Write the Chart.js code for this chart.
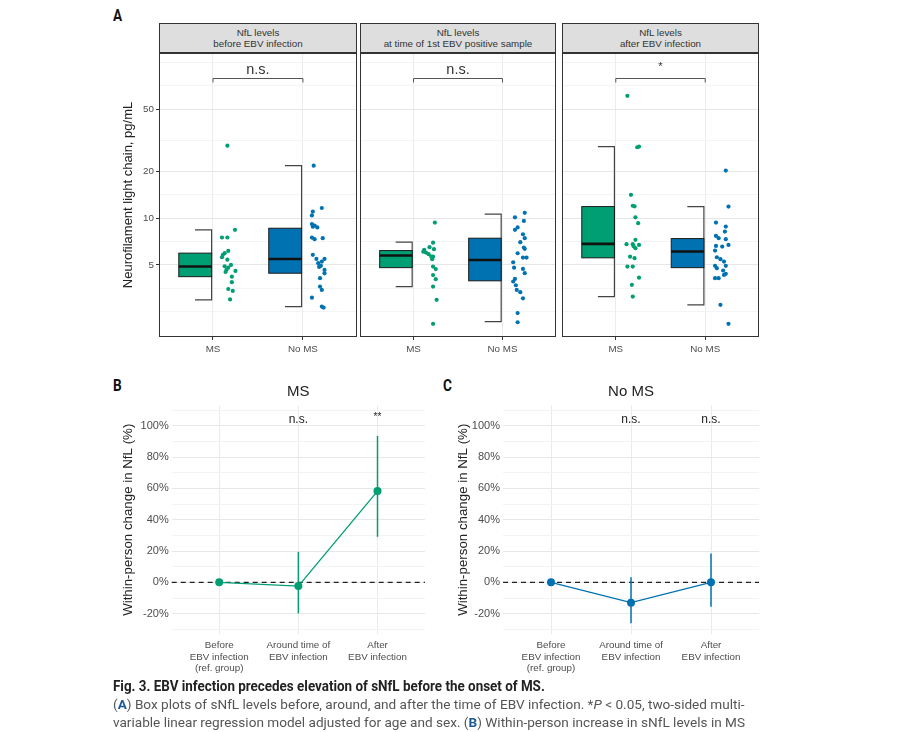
<!DOCTYPE html>
<html lang="en">
<head>
<meta charset="UTF-8">
<title>Fig. 3</title>
<script src="https://cdn.jsdelivr.net/npm/chart.js"></script>
<style>
    * { margin: 0; padding: 0; box-sizing: border-box; }
    body { background: #fff; width: 902px; height: 732px; overflow: hidden; position: relative; font-family: 'Liberation Sans', Arial, sans-serif; }
    canvas { position: absolute; }
    .letter { position: absolute; font-family: Roboto, sans-serif; font-weight: 700; font-size: 16px; color: #111; transform: scaleX(0.85); transform-origin: left; }
    .strip { position: absolute; top: 23px; height: 30px; border: 1px solid #333; background: #dedede; color: #333; font-size: 9.8px; line-height: 11px; text-align: center; padding-top: 3px; }
    .cap { position: absolute; left: 113px; font-family: Roboto, sans-serif; white-space: nowrap; transform-origin: left center; }
    .cap.t { font-weight: 700; font-size: 15px; color: #222; }
    .cap.s { font-size: 13.5px; color: #555; }
    .cap b { color: #1c5a96; }
</style>
</head>
<body>
    <div class="letter" style="left:113px; top:6px;">A</div>
    <div class="letter" style="left:113px; top:376px;">B</div>
    <div class="letter" style="left:443px; top:376px;">C</div>

    <div class="strip" id="strip0" style="left:159px; width:198px;"></div>
    <div class="strip" id="strip1" style="left:360px; width:196px;"></div>
    <div class="strip" id="strip2" style="left:562px; width:197px;"></div>

    <canvas id="facet0" width="249" height="310" style="left:110px; top:50px;"></canvas>
    <canvas id="facet1" width="200" height="310" style="left:358px; top:50px;"></canvas>
    <canvas id="facet2" width="201" height="310" style="left:560px; top:50px;"></canvas>

    <canvas id="chartB" width="320" height="305" style="left:110px; top:375px;"></canvas>
    <canvas id="chartC" width="325" height="305" style="left:440px; top:375px;"></canvas>

    <div class="cap t" id="cap1" style="top:677px;">Fig. 3. EBV infection precedes elevation of sNfL before the onset of MS.</div>
    <div class="cap s" id="cap2" style="top:696px;">(<b>A</b>) Box plots of sNfL levels before, around, and after the time of EBV infection. *<i>P</i> &lt; 0.05, two-sided multi-</div>
    <div class="cap s" id="cap3" style="top:714px;">variable linear regression model adjusted for age and sex. (<b>B</b>) Within-person increase in sNfL levels in MS</div>

<script>
// ---- panel A data ----
const groups = ['MS', 'No MS'];
const facetTitles = [
    ['NfL levels', 'before EBV infection'],
    ['NfL levels', 'at time of 1st EBV positive sample'],
    ['NfL levels', 'after EBV infection']
];
const sigA = ['n.s.', 'n.s.', '*'];
const bracketA = 79;
const yTicksA = [5, 10, 20, 50];
const yGridA = [2.5, 3.54, 5, 7.07, 10, 14.1, 20, 31.6, 50, 70.7, 100];

// box stats, per facet: [MS, No MS]
const q1A = [[4.2, 4.42], [4.8, 3.95], [5.55, 4.8]];
const medA = [[4.88, 5.46], [5.74, 5.38], [6.82, 6.09]];
const q3A = [[5.95, 8.6], [6.18, 7.42], [11.85, 7.38]];
const loA = [[2.98, 2.7], [3.63, 2.16], [3.13, 2.77]];
const hiA = [[8.4, 21.7], [7.0, 10.6], [28.8, 11.85]];

// individual samples (value, horizontal jitter)
const before_ms = [29.2, 8.4, 7.5, 7.5, 6.15, 5.95, 5.8, 5.6, 5.4, 5.0, 4.9, 4.8, 4.65, 4.57, 4.5, 4.2, 3.87, 3.5, 3.4, 3.0];
const before_ms_jit = [0.16, 0.245, 0.10, 0.16, 0.17, 0.13, 0.11, 0.10, 0.16, 0.20, 0.13, 0.17, 0.15, 0.25, 0.14, 0.21, 0.21, 0.17, 0.22, 0.19];
const before_noms = [21.7, 11.6, 11.0, 10.4, 9.14, 8.95, 8.8, 8.7, 7.49, 7.31, 7.42, 5.8, 5.46, 5.46, 5.25, 5.13, 4.93, 4.85, 4.64, 4.41, 4.11, 3.63, 3.45, 3.08, 2.7, 2.66];
const before_noms_jit = [0.12, 0.21, 0.11, 0.10, 0.10, 0.13, 0.11, 0.16, 0.10, 0.13, 0.22, 0.11, 0.15, 0.24, 0.21, 0.17, 0.20, 0.18, 0.24, 0.24, 0.19, 0.19, 0.21, 0.10, 0.21, 0.23];
const around_ms = [9.35, 6.95, 6.5, 6.31, 6.24, 6.08, 6.0, 5.86, 5.65, 5.65, 5.44, 4.88, 4.7, 4.3, 4.05, 3.63, 2.98, 2.09];
const around_ms_jit = [0.24, 0.22, 0.18, 0.23, 0.12, 0.11, 0.14, 0.17, 0.20, 0.22, 0.21, 0.22, 0.25, 0.22, 0.25, 0.22, 0.26, 0.22];
const around_noms = [10.8, 10.1, 9.59, 8.7, 8.4, 7.87, 7.42, 7.0, 6.46, 6.34, 5.94, 5.57, 5.57, 5.2, 4.8, 4.71, 4.42, 4.06, 3.91, 3.7, 3.45, 3.34, 3.05, 2.45, 2.14];
const around_noms_jit = [0.25, 0.14, 0.24, 0.17, 0.14, 0.23, 0.25, 0.20, 0.24, 0.25, 0.17, 0.23, 0.27, 0.12, 0.13, 0.23, 0.25, 0.14, 0.12, 0.15, 0.16, 0.20, 0.23, 0.17, 0.17];
const after_ms = [61, 28.8, 28.5, 14.1, 12.0, 11.9, 10.1, 9.27, 7.24, 6.79, 6.79, 6.72, 6.6, 6.4, 5.65, 5.52, 4.88, 4.88, 4.14, 3.72, 3.13];
const after_ms_jit = [0.13, 0.26, 0.24, 0.17, 0.19, 0.21, 0.22, 0.25, 0.22, 0.12, 0.19, 0.26, 0.20, 0.22, 0.16, 0.21, 0.13, 0.19, 0.26, 0.18, 0.19];
const after_noms = [20.2, 11.85, 9.35, 8.81, 8.18, 7.67, 7.42, 7.31, 6.72, 6.62, 6.56, 6.18, 5.6, 5.44, 5.25, 4.93, 4.76, 4.93, 4.6, 4.38, 4.31, 4.11, 4.11, 2.77, 2.09];
const after_noms_jit = [0.23, 0.26, 0.12, 0.23, 0.22, 0.12, 0.15, 0.23, 0.26, 0.12, 0.19, 0.11, 0.13, 0.17, 0.21, 0.11, 0.13, 0.23, 0.20, 0.23, 0.21, 0.11, 0.15, 0.17, 0.26];

const ptsA = [[before_ms, before_noms], [around_ms, around_noms], [after_ms, after_noms]];
const jitA = [[before_ms_jit, before_noms_jit], [around_ms_jit, around_noms_jit], [after_ms_jit, after_noms_jit]];

// ---- panels B / C data ----
const timeLabels = [['Before', 'EBV infection', '(ref. group)'], ['Around time of', 'EBV infection'], ['After', 'EBV infection']];
const msChange = [0, -2.4, 58.3];
const msLow = [0, -19.8, 29.1];
const msHigh = [0, 19.5, 93.5];
const msSig = ['', 'n.s.', '**'];
const noMsChange = [0, -13.0, 0];
const noMsLow = [0, -26.2, -15.6];
const noMsHigh = [0, 3.2, 18.5];
const noMsSig = ['', 'n.s.', 'n.s.'];
const sigY = 104;
const refLine = 0;
const pctTicks = [-20, 0, 20, 40, 60, 80, 100];
const pctGrid = [-30, -20, -10, 0, 10, 20, 30, 40, 50, 60, 70, 80, 90, 100, 110];

const groupColors = ['#009E73', '#0072B2'];
const FONT = "'Liberation Sans', Arial, sans-serif";
Chart.defaults.font.family = FONT;

facetTitles.forEach((t, i) => {
    document.getElementById('strip' + i).innerHTML = t.join('<br>');
});

// keep tick labels from pushing the plot area around
function noOverflow(s) {
    s.paddingTop = 0; s.paddingBottom = 0; s.paddingLeft = 0; s.paddingRight = 0;
}

function facetChart(f) {
    const showAxis = f === 0;
    const datasets = groups.map((g, gi) => ({
        label: g,
        data: ptsA[f][gi].map((v, i) => ({ x: gi + 1 + jitA[f][gi][i], y: v })),
        backgroundColor: groupColors[gi],
        pointRadius: 2.1,
        pointHoverRadius: 2.1,
        pointBorderWidth: 0
    }));

    const boxes = {
        id: 'boxes',
        beforeDatasetsDraw(chart) {
            const { ctx, scales: { x, y } } = chart;
            groups.forEach((g, gi) => {
                const c = gi + 1;
                const xl = x.getPixelForValue(c - 0.38);
                const xr = x.getPixelForValue(c - 0.015);
                const xc = x.getPixelForValue(c - 0.2);
                const yq1 = y.getPixelForValue(q1A[f][gi]);
                const yq3 = y.getPixelForValue(q3A[f][gi]);
                const ym = y.getPixelForValue(medA[f][gi]);
                const ylo = y.getPixelForValue(loA[f][gi]);
                const yhi = y.getPixelForValue(hiA[f][gi]);
                ctx.save();
                // whisker bracket
                ctx.strokeStyle = '#444';
                ctx.lineWidth = 1.2;
                ctx.beginPath();
                ctx.moveTo(xc, yhi); ctx.lineTo(xr, yhi); ctx.lineTo(xr, ylo); ctx.lineTo(xc, ylo);
                ctx.stroke();
                // box
                ctx.fillStyle = groupColors[gi];
                ctx.fillRect(xl, yq3, xr - xl, yq1 - yq3);
                ctx.strokeStyle = '#1a1a1a';
                ctx.lineWidth = 1;
                ctx.strokeRect(xl, yq3, xr - xl, yq1 - yq3);
                // median
                ctx.lineWidth = 2.6;
                ctx.strokeStyle = '#111';
                ctx.beginPath();
                ctx.moveTo(xl, ym); ctx.lineTo(xr, ym);
                ctx.stroke();
                ctx.restore();
            });
        },
        afterDraw(chart) {
            const { ctx, chartArea: a, scales: { x, y } } = chart;
            ctx.save();
            // significance bracket
            const yb = Math.round(y.getPixelForValue(bracketA)) + 0.5;
            const x1 = x.getPixelForValue(1), x2 = x.getPixelForValue(2);
            ctx.strokeStyle = '#555';
            ctx.lineWidth = 1;
            ctx.beginPath();
            ctx.moveTo(x1, yb + 4); ctx.lineTo(x1, yb); ctx.lineTo(x2, yb); ctx.lineTo(x2, yb + 4);
            ctx.stroke();
            ctx.fillStyle = '#333';
            ctx.textAlign = 'center';
            ctx.textBaseline = 'alphabetic';
            const star = sigA[f] === '*';
            ctx.font = (star ? '11px ' : '14.5px ') + FONT;
            ctx.fillText(sigA[f], (x1 + x2) / 2, star ? yb - 9 : yb - 5);
            // panel frame
            ctx.strokeStyle = '#333';
            ctx.lineWidth = 1;
            ctx.strokeRect(Math.round(a.left) + 0.5, Math.round(a.top) + 0.5, Math.round(a.right - a.left) - 1, Math.round(a.bottom - a.top) - 1);
            ctx.restore();
        }
    };

    return new Chart(document.getElementById('facet' + f), {
        type: 'scatter',
        data: { datasets },
        options: {
            responsive: false,
            animation: false,
            layout: { padding: { left: showAxis ? 0 : 2, right: 2, top: 3, bottom: 0 } },
            plugins: { legend: { display: false }, tooltip: { enabled: false } },
            scales: {
                x: {
                    type: 'linear', min: 0.4, max: 2.6,
                    afterBuildTicks: s => { s.ticks = groups.map((g, i) => ({ value: i + 1 })); },
                    afterFit: s => { s.height = 23; noOverflow(s); },
                    ticks: { callback: v => groups[v - 1], font: { size: 9.8 }, color: '#4d4d4d', padding: 3, autoSkip: false, maxRotation: 0 },
                    grid: { color: '#ececec', lineWidth: 1, tickLength: 3, tickColor: '#333' },
                    border: { display: false }
                },
                y: {
                    type: 'logarithmic', min: 1.72, max: 115, bounds: 'data',
                    afterBuildTicks: s => { s.ticks = yGridA.map(v => ({ value: v })); },
                    afterFit: s => { s.width = showAxis ? 49 : 0; noOverflow(s); },
                    ticks: { display: showAxis, callback: v => yTicksA.includes(v) ? String(v) : '', font: { size: 9.8 }, color: '#4d4d4d', padding: 2, autoSkip: false },
                    grid: {
                        color: c => (c.tick && yTicksA.includes(c.tick.value)) ? '#e6e6e6' : '#f1f1f1',
                        lineWidth: c => (c.tick && yTicksA.includes(c.tick.value)) ? 1 : 0.8,
                        drawTicks: showAxis, tickLength: 3,
                        tickColor: c => (c.tick && yTicksA.includes(c.tick.value)) ? '#333' : 'rgba(0,0,0,0)'
                    },
                    title: { display: showAxis, text: 'Neurofilament light chain, pg/mL', font: { size: 13 }, color: '#222', padding: { top: 10.5, bottom: 0 } },
                    border: { display: false }
                }
            }
        },
        plugins: [boxes]
    });
}

[0, 1, 2].forEach(facetChart);

function changeChart(id, title, vals, lo, hi, sig, color, yWidth, titlePad, padRight) {
    const extras = {
        id: 'extras',
        beforeDatasetsDraw(chart) {
            const { ctx, chartArea: a, scales: { x, y } } = chart;
            ctx.save();
            // dashed reference line
            const y0 = y.getPixelForValue(refLine);
            ctx.strokeStyle = '#222';
            ctx.lineWidth = 1.2;
            ctx.setLineDash([5, 4]);
            ctx.beginPath();
            ctx.moveTo(a.left, y0); ctx.lineTo(a.right, y0);
            ctx.stroke();
            ctx.setLineDash([]);
            // confidence intervals
            ctx.strokeStyle = color;
            ctx.lineWidth = 1.5;
            vals.forEach((v, i) => {
                if (lo[i] === hi[i]) return;
                const px = x.getPixelForValue(i + 1);
                ctx.beginPath();
                ctx.moveTo(px, y.getPixelForValue(lo[i]));
                ctx.lineTo(px, y.getPixelForValue(hi[i]));
                ctx.stroke();
            });
            // significance labels
            ctx.fillStyle = '#222';
            ctx.textAlign = 'center';
            ctx.textBaseline = 'middle';
            sig.forEach((s, i) => {
                if (!s) return;
                ctx.font = (s === '**' ? '10px ' : '12px ') + FONT;
                ctx.fillText(s, x.getPixelForValue(i + 1), y.getPixelForValue(sigY) + (s === '**' ? -2 : 0));
            });
            ctx.restore();
        }
    };

    return new Chart(document.getElementById(id), {
        type: 'line',
        data: {
            datasets: [{
                data: vals.map((v, i) => ({ x: i + 1, y: v })),
                borderColor: color,
                backgroundColor: color,
                borderWidth: 1.3,
                pointRadius: 4,
                pointHoverRadius: 4,
                pointBorderWidth: 0,
                tension: 0
            }]
        },
        options: {
            responsive: false,
            animation: false,
            layout: { padding: { right: padRight, top: 0, left: 0, bottom: 0 } },
            plugins: {
                legend: { display: false },
                tooltip: { enabled: false },
                title: { display: true, text: title, fullSize: false, font: { size: 15, weight: 'normal' }, color: '#222', padding: { top: 8, bottom: 4.5 } }
            },
            scales: {
                x: {
                    type: 'linear', min: 0.4, max: 3.6,
                    afterBuildTicks: s => { s.ticks = timeLabels.map((t, i) => ({ value: i + 1 })); },
                    afterFit: s => { s.height = 46; noOverflow(s); },
                    ticks: { callback: v => timeLabels[v - 1], font: { size: 9.8, lineHeight: 1.15 }, color: '#4d4d4d', padding: 6, autoSkip: false, maxRotation: 0 },
                    grid: { color: '#ebebeb', drawTicks: false },
                    border: { display: false }
                },
                y: {
                    min: -33, max: 113,
                    afterBuildTicks: s => { s.ticks = pctGrid.map(v => ({ value: v })); },
                    afterFit: s => { s.width = yWidth; noOverflow(s); },
                    ticks: { callback: v => pctTicks.includes(v) ? v + '%' : '', font: { size: 11 }, color: '#4d4d4d', padding: 3, autoSkip: false },
                    grid: {
                        color: c => (c.tick && pctTicks.includes(c.tick.value)) ? '#e8e8e8' : '#f3f3f3',
                        drawTicks: false
                    },
                    title: { display: true, text: 'Within-person change in NfL (%)', font: { size: 13.3 }, color: '#222', padding: { top: titlePad, bottom: 0 } },
                    border: { display: false }
                }
            }
        },
        plugins: [extras]
    });
}

changeChart('chartB', 'MS', msChange, msLow, msHigh, msSig, groupColors[0], 61.7, 10, 5);
changeChart('chartC', 'No MS', noMsChange, noMsLow, noMsHigh, noMsSig, groupColors[1], 63, 15, 6);

// squeeze the caption lines to the condensed width of the original
const capWidths = { cap1: 432, cap2: 632, cap3: 632 };
Object.keys(capWidths).forEach(id => {
    const el = document.getElementById(id);
    el.style.transform = 'scaleX(' + (capWidths[id] / el.scrollWidth) + ')';
});
</script>
</body>
</html>
